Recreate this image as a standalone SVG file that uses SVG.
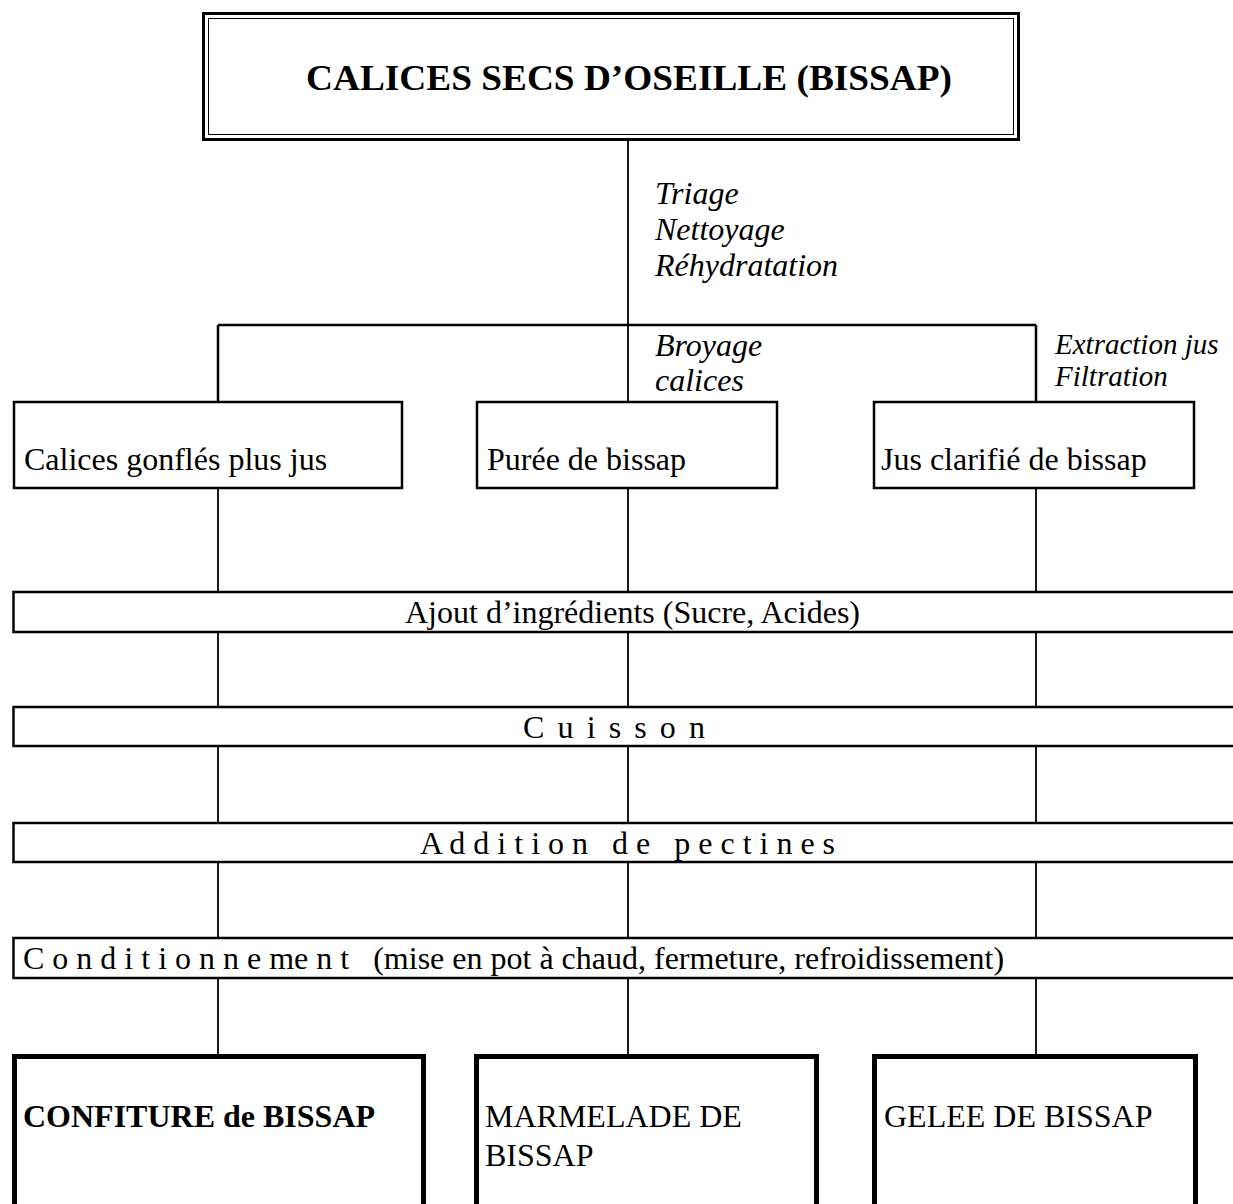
<svg xmlns="http://www.w3.org/2000/svg" width="1233" height="1204" viewBox="0 0 1233 1204">
<style>
text{font-family:"Liberation Serif","Times New Roman",serif;font-size:32px;fill:#000;white-space:pre}
.it{font-style:italic}
.b{font-weight:bold}
.box{fill:#fff;stroke:#000;stroke-width:2.5}
.bar{fill:#fff;stroke:#000;stroke-width:2.5}
.prod{fill:#fff;stroke:#000;stroke-width:5}
.c line{stroke:#000;stroke-width:1.8}
</style>
<rect width="1233" height="1204" fill="#fff"/>
<g class="c" id="connectors">
<line x1="628" y1="139" x2="628" y2="402"/>
<line x1="218" y1="325" x2="1036" y2="325" style="stroke-width:2.5"/>
<line x1="218" y1="325" x2="218" y2="402" style="stroke-width:2.5"/>
<line x1="1036" y1="325" x2="1036" y2="402" style="stroke-width:2.5"/>
<line x1="218" y1="488" x2="218" y2="592"/>
<line x1="628" y1="488" x2="628" y2="592"/>
<line x1="1036" y1="488" x2="1036" y2="592"/>
<line x1="218" y1="632" x2="218" y2="707"/>
<line x1="628" y1="632" x2="628" y2="707"/>
<line x1="1036" y1="632" x2="1036" y2="707"/>
<line x1="218" y1="746" x2="218" y2="823"/>
<line x1="628" y1="746" x2="628" y2="823"/>
<line x1="1036" y1="746" x2="1036" y2="823"/>
<line x1="218" y1="862" x2="218" y2="938"/>
<line x1="628" y1="862" x2="628" y2="938"/>
<line x1="1036" y1="862" x2="1036" y2="938"/>
<line x1="218" y1="978" x2="218" y2="1054"/>
<line x1="628" y1="978" x2="628" y2="1054"/>
<line x1="1036" y1="978" x2="1036" y2="1054"/>
</g>
<g id="labels">
<text class="it" x="655" y="204">Triage</text>
<text class="it" x="655" y="240">Nettoyage</text>
<text class="it" x="655" y="276">Réhydratation</text>
<text class="it" x="655" y="356">Broyage</text>
<text class="it" x="655" y="391">calices</text>
<text class="it" x="1055" y="354" style="font-size:29px">Extraction jus</text>
<text class="it" x="1055" y="386" style="font-size:29px">Filtration</text>
</g>
<g id="n-top">
<rect x="203.5" y="13.5" width="815" height="126" fill="#fff" stroke="#000" stroke-width="3"/>
<rect x="208.5" y="18.5" width="805" height="116" fill="none" stroke="#000" stroke-width="1"/>
<text class="b" x="306" y="90" style="font-size:36px" textLength="646" lengthAdjust="spacingAndGlyphs">CALICES SECS D’OSEILLE (BISSAP)</text>
</g>
<g id="n-calices">
<rect class="box" x="14" y="402" width="388" height="86"/>
<text x="24" y="470">Calices gonflés plus jus</text>
</g>
<g id="n-puree">
<rect class="box" x="477" y="402" width="300" height="86"/>
<text x="487" y="470">Purée de bissap</text>
</g>
<g id="n-jus">
<rect class="box" x="874" y="402" width="320" height="86"/>
<text x="881" y="470">Jus clarifié de bissap</text>
</g>
<g id="n-ajout">
<rect class="bar" x="13.5" y="592" width="1240" height="40"/>
<text x="405" y="623">Ajout d’ingrédients (Sucre, Acides)</text>
</g>
<g id="n-cuisson">
<rect class="bar" x="13.5" y="707" width="1240" height="39"/>
<text x="523" y="738" textLength="182" lengthAdjust="spacing">C u i s s o n</text>
</g>
<g id="n-pectines">
<rect class="bar" x="13.5" y="823" width="1240" height="39"/>
<text x="420" y="854">A d d i t i o n   d e   p e c t i n e s</text>
</g>
<g id="n-cond">
<rect class="bar" x="13.5" y="938" width="1240" height="40"/>
<text x="23" y="969">C o n d i t i o n n e me n t   (mise en pot à chaud, fermeture, refroidissement)</text>
</g>
<g id="n-confiture">
<rect class="prod" x="14.5" y="1056.5" width="409" height="170"/>
<text class="b" x="23" y="1127">CONFITURE de BISSAP</text>
</g>
<g id="n-marmelade">
<rect class="prod" x="476.5" y="1056.5" width="340" height="170"/>
<text x="485" y="1127">MARMELADE DE</text>
<text x="485" y="1166">BISSAP</text>
</g>
<g id="n-gelee">
<rect class="prod" x="874.5" y="1056.5" width="321" height="170"/>
<text x="884" y="1127">GELEE DE BISSAP</text>
</g>
</svg>
